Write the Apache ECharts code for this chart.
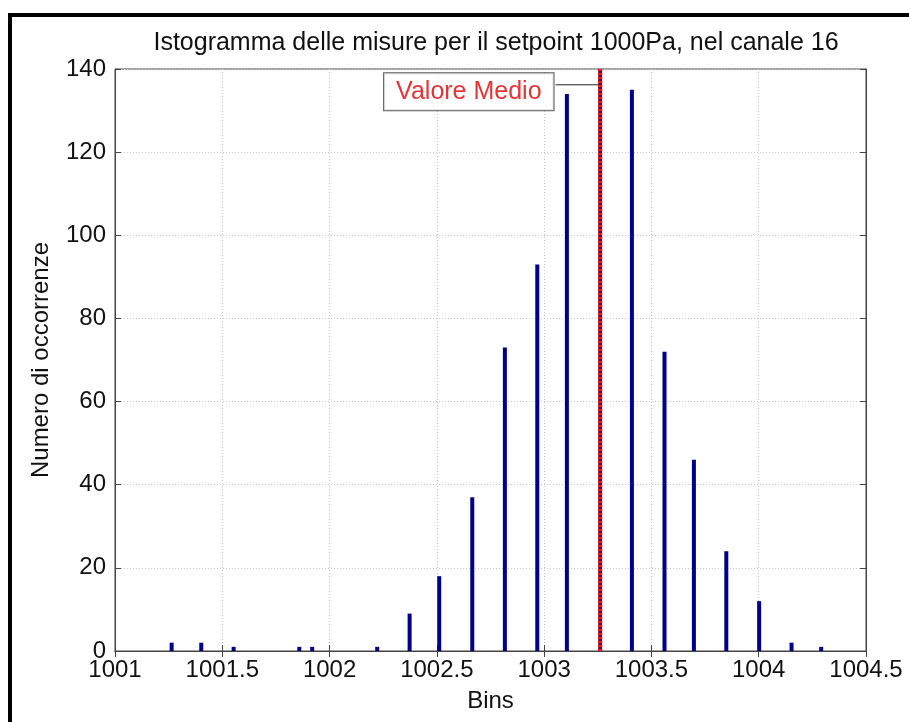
<!DOCTYPE html>
<html>
<head>
<meta charset="utf-8">
<style>
  html, body { margin: 0; padding: 0; background: #fff; }
  #chart { width: 909px; height: 722px; }
</style>
<script src="https://cdn.jsdelivr.net/npm/echarts@6/dist/echarts.min.js"></script>
</head>
<body>
<div id="chart"></div>
<script>
// Histogram bins (Pa) and the number of occurrences in each
const binCenters = [
  1001.264, 1001.402, 1001.553, 1001.859, 1001.919, 1002.222, 1002.373,
  1002.511, 1002.665, 1002.817, 1002.968, 1003.106, 1003.409, 1003.561,
  1003.698, 1003.849, 1004.002, 1004.153, 1004.291
];
const counts = [2, 2, 1, 1, 1, 1, 9, 18, 37, 73, 93, 134, 135, 72, 46, 24, 12, 2, 1];

// Mean of the measurements
const meanValue = 1003.261;

// Axis ranges and tick steps
const xMin = 1001, xMax = 1004.5, xStep = 0.5;
const yMin = 0, yMax = 140, yStep = 20;

// Annotation for the mean: label anchor and connector end points (data units)
const meanLabelText = 'Valore Medio';
const meanLabelAt = [1002.649, 134.55];
const connectorY = 136.2;
const connectorStartX = 1003.053;

const FONT = '"Liberation Sans", Arial, Helvetica, sans-serif';

const chart = echarts.init(document.getElementById('chart'), null, { renderer: 'canvas' });

const tickStyle = { inside: true, length: 6, lineStyle: { color: '#444', width: 1 } };
const gridDots = { show: true, lineStyle: { color: '#c8c8c8', type: [1, 2], width: 1 } };

chart.setOption({
  animation: false,
  backgroundColor: '#fff',
  title: {
    text: 'Istogramma delle misure per il setpoint 1000Pa, nel canale 16',
    left: 491, top: 26, textAlign: 'center',
    textStyle: { fontFamily: FONT, fontSize: 25, fontWeight: 'normal', color: '#111' }
  },
  grid: {
    left: 115, right: 43, top: 69, bottom: 71,
    outerBoundsMode: 'none', containLabel: false,
    show: true, borderColor: '#444', borderWidth: 1, backgroundColor: '#fff'
  },
  graphic: [{
    type: 'rect', z: 100, silent: true,
    shape: { x: 10, y: 15, width: 1100, height: 900 },
    style: { fill: 'none', stroke: '#000', lineWidth: 4 }
  }],
  xAxis: [{
    type: 'value', min: xMin, max: xMax, interval: xStep,
    name: 'Bins', nameLocation: 'middle', nameGap: 38,
    nameTextStyle: { fontFamily: FONT, fontSize: 24, color: '#111' },
    axisLine: { show: true, lineStyle: { color: '#444', width: 1 } },
    axisTick: tickStyle,
    axisLabel: { fontFamily: FONT, fontSize: 24, color: '#111', margin: 7,
                 formatter: v => String(+v.toFixed(1)) },
    splitLine: gridDots
  }, {
    type: 'value', position: 'top', min: xMin, max: xMax, interval: xStep,
    axisLine: { show: true, lineStyle: { color: '#444', width: 1 } },
    axisTick: tickStyle, axisLabel: { show: false }, splitLine: { show: false }
  }],
  yAxis: [{
    type: 'value', min: yMin, max: yMax, interval: yStep,
    name: 'Numero di occorrenze', nameLocation: 'middle', nameGap: 62,
    nameTextStyle: { fontFamily: FONT, fontSize: 24, color: '#111' },
    axisLine: { show: true, lineStyle: { color: '#444', width: 1 } },
    axisTick: tickStyle,
    axisLabel: { fontFamily: FONT, fontSize: 24, color: '#111', margin: 9 },
    splitLine: gridDots
  }, {
    type: 'value', position: 'right', min: yMin, max: yMax, interval: yStep,
    axisLine: { show: true, lineStyle: { color: '#444', width: 1 } },
    axisTick: tickStyle, axisLabel: { show: false }, splitLine: { show: false }
  }],
  series: [
    {
      name: 'Occorrenze', type: 'bar', xAxisIndex: 0, yAxisIndex: 0,
      barWidth: 4,
      itemStyle: { color: '#00008b' },
      data: binCenters.map((x, i) => [x, counts[i]]),
      z: 3
    },
    {
      // dark base of the mean line
      type: 'line', xAxisIndex: 0, yAxisIndex: 0, symbol: 'none',
      lineStyle: { color: '#7a0030', width: 4 },
      data: [[meanValue, yMin], [meanValue, yMax]], z: 5
    },
    {
      // red dotted overlay of the mean line
      type: 'line', xAxisIndex: 0, yAxisIndex: 0, symbol: 'none',
      lineStyle: { color: '#f01818', width: 4, type: [2, 2] },
      data: [[meanValue, yMin], [meanValue, yMax]], z: 6
    },
    {
      // connector from the label box to the mean line
      type: 'line', xAxisIndex: 0, yAxisIndex: 0, symbol: 'none',
      lineStyle: { color: '#222', width: 1 },
      data: [[connectorStartX, connectorY], [meanValue, connectorY]], z: 4
    },
    {
      type: 'scatter', xAxisIndex: 0, yAxisIndex: 0,
      symbolSize: 0, silent: true, z: 10,
      data: [meanLabelAt],
      label: {
        show: true, position: 'inside', formatter: meanLabelText,
        fontFamily: FONT, fontSize: 25, color: '#e00000',
        backgroundColor: '#fff', borderColor: '#333', borderWidth: 1,
        padding: [6, 12, 6, 12]
      }
    }
  ]
});
</script>
</body>
</html>
